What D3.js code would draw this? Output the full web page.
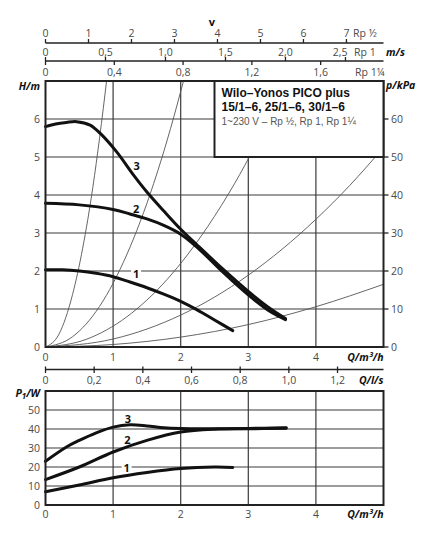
<!DOCTYPE html>
<html>
<head>
<meta charset="utf-8">
<script src="https://cdnjs.cloudflare.com/ajax/libs/d3/7.8.5/d3.min.js"></script>
<style>
  body { margin: 0; background: #fff; }
  svg { display: block; font-family: "Open Sans", sans-serif; }
  .tick-label { fill: #4a4a4a; font-size: 10.5px; }
  .unit { fill: #111; font-size: 10.5px; font-weight: bold; font-style: italic; }
  .title { font-family: "Liberation Sans", Arial, sans-serif; }
</style>
</head>
<body>
<div id="chart"></div>
<script>
// flow axis ticks (m³/h) and the other scales
var qTicks = [0, 1, 2, 3, 4];
var hTicks = [0, 1, 2, 3, 4, 5, 6];
var kpaTicks = [0, 10, 20, 30, 40, 50, 60];
var wattTicks = [0, 10, 20, 30, 40, 50];
var lsTicks = [0, 0.2, 0.4, 0.6, 0.8, 1.0, 1.2];

// velocity scales above the chart: ticks and m³/h per m/s for each pipe size
var vRpHalfTicks = [0, 1, 2, 3, 4, 5, 6, 7];
var vRp1Ticks = [0, 0.5, 1.0, 1.5, 2.0, 2.5];
var vRp114Ticks = [0, 0.4, 0.8, 1.2, 1.6];
var qPerV = [0.636, 1.775, 2.544];

// pump curves H(Q), speed stages 1..3
var h1Q = [0, 0.25, 0.5, 0.75, 1.0, 1.25, 1.5, 1.75, 2.0, 2.25, 2.5, 2.77];
var h1H = [2.03, 2.03, 2.0, 1.94, 1.85, 1.71, 1.56, 1.39, 1.2, 0.97, 0.71, 0.43];
var h2Q = [0, 0.5, 1.0, 1.25, 1.5, 1.75, 2.0, 2.24, 2.63, 3.0, 3.3, 3.55];
var h2H = [3.78, 3.74, 3.62, 3.5, 3.37, 3.2, 2.97, 2.63, 1.96, 1.37, 0.96, 0.72];
var h3Q = [0, 0.15, 0.31, 0.46, 0.66, 0.81, 1.05, 1.3, 1.5, 1.75, 2.0, 2.24, 2.63, 3.0, 3.3, 3.55];
var h3H = [5.8, 5.87, 5.91, 5.93, 5.84, 5.62, 5.14, 4.53, 4.08, 3.58, 3.1, 2.69, 2.04, 1.46, 1.04, 0.75];

// system curves (thin), read points
var sysA_Q = [0, 0.2, 0.4, 0.55, 0.7, 0.8, 0.91];
var sysA_H = [0, 0.34, 1.38, 2.6, 4.2, 5.5, 7.1];
var sysB_Q = [0, 0.4, 0.8, 1.2, 1.6, 1.85, 2.05];
var sysB_H = [0, 0.27, 1.07, 2.42, 4.3, 5.75, 7.06];
var sysC_Q = [0, 0.6, 1.2, 1.8, 2.4, 2.8, 3.1];
var sysC_H = [0, 0.2, 0.79, 1.78, 3.17, 4.31, 5.28];
var sysD_Q = [0, 1, 2, 3, 4, 4.5, 5];
var sysD_H = [0, 0.21, 0.84, 1.89, 3.36, 4.25, 5.25];
var sysE_Q = [0, 1, 2, 3, 4, 5];
var sysE_H = [0, 0.066, 0.26, 0.59, 1.06, 1.65];

// power input P1(Q)
var p1Q = [0, 0.5, 1.0, 1.5, 2.0, 2.5, 2.77];
var p1W = [7, 10.5, 14.3, 17.1, 19.2, 20, 19.8];
var p2Q = [0, 0.5, 1.0, 1.5, 2.0, 2.5, 3.0, 3.56];
var p2W = [13.4, 20, 27.9, 34, 38.4, 39.9, 40.1, 40.4];
var p3Q = [0, 0.31, 0.5, 0.75, 1.0, 1.25, 1.5, 1.75, 2.0, 2.5, 3.0, 3.56];
var p3W = [23, 30.5, 34, 38, 41, 42.2, 41.6, 40.6, 40.2, 40.1, 40.3, 40.6];

var stageNames = ["1", "2", "3"];
var hLabelAt = [[1.34, 1.92], [1.34, 3.63], [1.35, 4.76]];
var pLabelAt = [[1.2, 19.2], [1.21, 34.0], [1.22, 45.4]];

var titleLines = ["Wilo\u2013Yonos PICO plus", "15/1\u20136, 25/1\u20136, 30/1\u20136"];
var subTitle = "1~230 V \u2013 Rp \u00bd, Rp 1, Rp 1\u00bc";

(function() {
  var width = 431, height = 540;
  var svg = d3.select("#chart").append("svg")
      .attr("width", width)
      .attr("height", height);

  var x = d3.scaleLinear().domain([0, 5]).range([45.5, 383.5]);
  var y = d3.scaleLinear().domain([0, 7]).range([347, 81]);
  var yKpa = d3.scaleLinear().domain([0, 70]).range([347, 81]);
  var yP = d3.scaleLinear().domain([0, 60]).range([505, 391]);

  var zip = function(a, b) { return a.map(function(v, i) { return [v, b[i]]; }); };
  var fmt = function(v) { return String(v).replace(".", ","); };
  var fmt1 = function(v) { return d3.format(".1f")(v).replace(".", ","); };

  // ---------- velocity axes on top ----------
  var vAxes = [
    {ticks: vRpHalfTicks, per: qPerV[0], lineY: 43, dir: -1, labY: 37, f: fmt, name: "Rp \u00bd", nx: 353},
    {ticks: vRp1Ticks, per: qPerV[1], lineY: 61, dir: -1, labY: 55.5, f: fmt1, name: "Rp 1", nx: 354},
    {ticks: vRp114Ticks, per: qPerV[2], lineY: 61, dir: 1, labY: 76, f: fmt1, name: "Rp 1\u00bc", nx: 355}
  ];
  var top = svg.append("g");
  [43, 61].forEach(function(ly) {
    top.append("line")
        .attr("x1", x(0)).attr("x2", x(5))
        .attr("y1", ly).attr("y2", ly)
        .attr("stroke", "#222").attr("stroke-width", 1.3);
  });
  vAxes.forEach(function(a) {
    var vx = d3.scaleLinear().domain([0, 1]).range([x(0), x(a.per)]);
    var last = a.ticks[a.ticks.length - 1];
    top.selectAll(null).data(a.ticks).enter().append("line")
        .attr("x1", d => vx(d)).attr("x2", d => vx(d))
        .attr("y1", a.lineY).attr("y2", a.lineY + a.dir * 4)
        .attr("stroke", "#222").attr("stroke-width", 1.3);
    top.selectAll(null).data(a.ticks).enter().append("text")
        .attr("class", "tick-label")
        // last Rp 1 label is pushed left so it clears the pipe name
        .attr("x", d => (d === last && a.name === "Rp 1") ? vx(d) + 2 : vx(d))
        .attr("y", a.labY)
        .attr("text-anchor", d => (d === last && a.name === "Rp 1") ? "end" : "middle")
        .text(d => d === 0 ? "0" : a.f(d));
    top.append("text").attr("class", "tick-label")
        .attr("x", a.nx).attr("y", a.labY)
        .text(a.name);
  });
  top.append("text").attr("x", 212).attr("y", 26)
      .attr("text-anchor", "middle")
      .style("font-size", "11px").style("font-weight", "bold").attr("fill", "#111")
      .text("v");
  top.append("text").attr("class", "unit")
      .attr("x", 386).attr("y", 55.5).text("m/s");

  // stage labels: white patch goes under the curves, text on top
  var labelPatches = function(g, at, sx, sy) {
    g.selectAll(null).data(at).enter().append("rect")
        .attr("x", d => sx(d[0]) - 5).attr("y", d => sy(d[1]) - 6)
        .attr("width", 10).attr("height", 12)
        .attr("fill", "#fff");
  };
  var labelTexts = function(g, at, sx, sy) {
    g.selectAll(null).data(at).enter().append("text")
        .attr("x", d => sx(d[0])).attr("y", d => sy(d[1]))
        .attr("text-anchor", "middle").attr("dy", "0.36em")
        .style("font-size", "11px").style("font-weight", "bold").attr("fill", "#111")
        .text((d, i) => stageNames[i]);
  };

  // ---------- main chart: H/m ----------
  var main = svg.append("g");
  main.selectAll(null).data(qTicks.slice(1)).enter().append("line")
      .attr("x1", d => x(d)).attr("x2", d => x(d))
      .attr("y1", y(0)).attr("y2", y(7))
      .attr("stroke", "#3a3a3a").attr("stroke-width", 1.2);
  main.selectAll(null).data(hTicks.slice(1)).enter().append("line")
      .attr("x1", x(0)).attr("x2", x(5))
      .attr("y1", d => y(d)).attr("y2", d => y(d))
      .attr("stroke", "#3a3a3a").attr("stroke-width", 1.2);
  labelPatches(main, hLabelAt, x, y);

  svg.append("clipPath").attr("id", "mainClip")
    .append("rect").attr("x", x(0)).attr("y", y(7))
      .attr("width", x(5) - x(0)).attr("height", y(0) - y(7));

  var thin = d3.line().x(d => x(d[0])).y(d => y(d[1])).curve(d3.curveMonotoneX);
  var sys = [zip(sysA_Q, sysA_H), zip(sysB_Q, sysB_H), zip(sysC_Q, sysC_H),
             zip(sysD_Q, sysD_H), zip(sysE_Q, sysE_H)];
  main.append("g").attr("clip-path", "url(#mainClip)")
    .selectAll("path").data(sys).enter().append("path")
      .attr("d", thin)
      .attr("fill", "none").attr("stroke", "#555").attr("stroke-width", 0.9);

  var thick = d3.line().x(d => x(d[0])).y(d => y(d[1])).curve(d3.curveCatmullRom.alpha(0.5));
  var hCurves = [zip(h1Q, h1H), zip(h2Q, h2H), zip(h3Q, h3H)];
  main.append("g").selectAll("path").data(hCurves).enter().append("path")
      .attr("d", thick)
      .attr("fill", "none").attr("stroke", "#111").attr("stroke-width", 3)
      .attr("stroke-linecap", "round");
  labelTexts(main, hLabelAt, x, y);

  // frame
  main.append("rect").attr("x", x(0)).attr("y", y(7))
      .attr("width", x(5) - x(0)).attr("height", y(0) - y(7))
      .attr("fill", "none").attr("stroke", "#222").attr("stroke-width", 2);

  // title box
  var box = main.append("g").attr("class", "title");
  box.append("rect").attr("x", x(2.5)).attr("y", y(7))
      .attr("width", x(5) - x(2.5)).attr("height", y(5) - y(7))
      .attr("fill", "#fff").attr("stroke", "#222").attr("stroke-width", 2);
  box.selectAll(null).data(titleLines).enter().append("text")
      .attr("x", x(2.5) + 7).attr("y", (d, i) => 96.5 + i * 14.6)
      .style("font-size", "12px").style("font-weight", "bold").attr("fill", "#111")
      .text(d => d);
  box.append("text").attr("x", x(2.5) + 7).attr("y", 125)
      .style("font-size", "10px").attr("fill", "#555")
      .text(subTitle);

  // left axis
  main.selectAll(null).data(hTicks).enter().append("text")
      .attr("class", "tick-label")
      .attr("x", 40).attr("y", d => y(d)).attr("dy", "0.35em")
      .attr("text-anchor", "end").text(d => d);
  main.append("text").attr("class", "unit").attr("x", 40).attr("y", 90)
      .attr("text-anchor", "end").text("H/m");

  // right axis kPa
  main.selectAll(null).data(kpaTicks).enter().append("line")
      .attr("x1", x(5)).attr("x2", x(5) + 5)
      .attr("y1", d => yKpa(d)).attr("y2", d => yKpa(d))
      .attr("stroke", "#222").attr("stroke-width", 1.3);
  main.selectAll(null).data(kpaTicks).enter().append("text")
      .attr("class", "tick-label")
      .attr("x", 391).attr("y", d => yKpa(d)).attr("dy", "0.35em")
      .text(d => d);
  main.append("text").attr("class", "unit").attr("x", 386).attr("y", 89)
      .text("p/kPa");

  // bottom axis Q
  main.selectAll(null).data(qTicks).enter().append("text")
      .attr("class", "tick-label")
      .attr("x", d => x(d)).attr("y", 360.5)
      .attr("text-anchor", "middle").text(d => d);
  main.append("text").attr("class", "unit").attr("x", x(5)).attr("y", 360.5)
      .attr("text-anchor", "end").text("Q/m\u00b3/h");

  // l/s axis
  var xls = d3.scaleLinear().domain([0, 1]).range([x(0), x(3.6)]);
  main.append("line").attr("x1", x(0)).attr("x2", x(5))
      .attr("y1", 369.5).attr("y2", 369.5)
      .attr("stroke", "#222").attr("stroke-width", 1.3);
  main.selectAll(null).data(lsTicks).enter().append("line")
      .attr("x1", d => xls(d)).attr("x2", d => xls(d))
      .attr("y1", 366.5).attr("y2", 373)
      .attr("stroke", "#222").attr("stroke-width", 1.3);
  main.selectAll(null).data(lsTicks).enter().append("text")
      .attr("class", "tick-label")
      .attr("x", d => xls(d)).attr("y", 384)
      .attr("text-anchor", "middle").text(d => d === 0 ? "0" : fmt1(d));
  main.append("text").attr("class", "unit").attr("x", x(5)).attr("y", 384)
      .attr("text-anchor", "end").text("Q/l/s");

  // ---------- power chart ----------
  var pw = svg.append("g");
  pw.selectAll(null).data(qTicks.slice(1)).enter().append("line")
      .attr("x1", d => x(d)).attr("x2", d => x(d))
      .attr("y1", yP(0)).attr("y2", yP(60))
      .attr("stroke", "#3a3a3a").attr("stroke-width", 1.2);
  pw.selectAll(null).data(wattTicks.slice(1)).enter().append("line")
      .attr("x1", x(0)).attr("x2", x(5))
      .attr("y1", d => yP(d)).attr("y2", d => yP(d))
      .attr("stroke", "#3a3a3a").attr("stroke-width", 1.2);
  labelPatches(pw, pLabelAt, x, yP);

  var pline = d3.line().x(d => x(d[0])).y(d => yP(d[1])).curve(d3.curveCatmullRom.alpha(0.5));
  var pCurves = [zip(p1Q, p1W), zip(p2Q, p2W), zip(p3Q, p3W)];
  pw.append("g").selectAll("path").data(pCurves).enter().append("path")
      .attr("d", pline)
      .attr("fill", "none").attr("stroke", "#111").attr("stroke-width", 3)
      .attr("stroke-linecap", "round");
  labelTexts(pw, pLabelAt, x, yP);

  pw.append("rect").attr("x", x(0)).attr("y", yP(60))
      .attr("width", x(5) - x(0)).attr("height", yP(0) - yP(60))
      .attr("fill", "none").attr("stroke", "#222").attr("stroke-width", 2);

  pw.selectAll(null).data(wattTicks).enter().append("text")
      .attr("class", "tick-label")
      .attr("x", 40).attr("y", d => yP(d)).attr("dy", "0.35em")
      .attr("text-anchor", "end").text(d => d);
  var pl = pw.append("text").attr("class", "unit").attr("x", 40).attr("y", 397)
      .attr("text-anchor", "end");
  pl.append("tspan").text("P");
  pl.append("tspan").attr("dy", 2).style("font-size", "8px").text("1");
  pl.append("tspan").attr("dy", -2).text("/W");

  pw.selectAll(null).data(qTicks).enter().append("text")
      .attr("class", "tick-label")
      .attr("x", d => x(d)).attr("y", 518)
      .attr("text-anchor", "middle").text(d => d);
  pw.append("text").attr("class", "unit").attr("x", x(5)).attr("y", 518)
      .attr("text-anchor", "end").text("Q/m\u00b3/h");
})();
</script>
</body>
</html>
